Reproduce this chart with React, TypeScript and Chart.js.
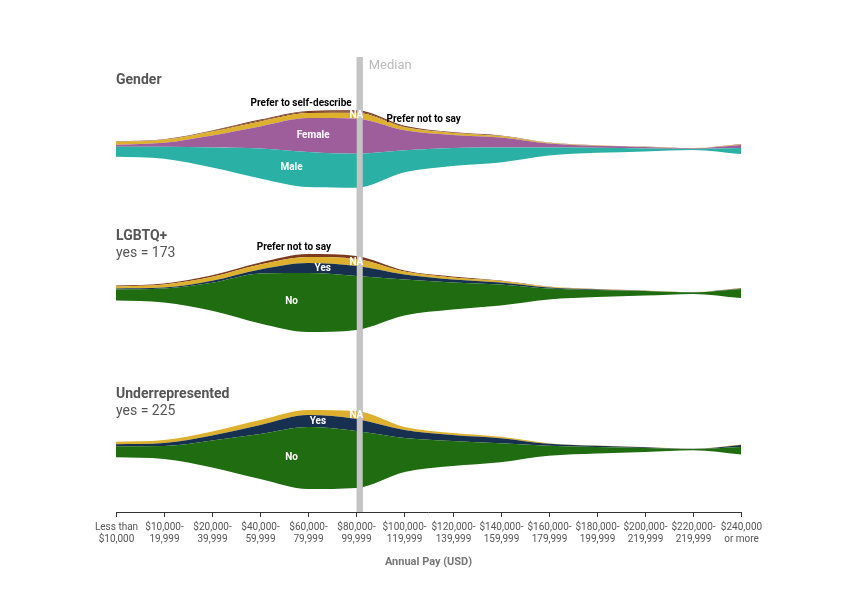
import React, { useEffect, useRef } from "react";
import { Chart, registerables } from "chart.js";
Chart.register(...registerables);

const categories = [
  ["Less than", "$10,000"], ["$10,000-", "19,999"], ["$20,000-", "39,999"], ["$40,000-", "59,999"],
  ["$60,000-", "79,999"], ["$80,000-", "99,999"], ["$100,000-", "119,999"], ["$120,000-", "139,999"],
  ["$140,000-", "159,999"], ["$160,000-", "179,999"], ["$180,000-", "199,999"], ["$200,000-", "219,999"],
  ["$220,000-", "219,999"], ["$240,000", "or more"],
];
const medianIndex = 5.07;

// Gender (bottom to top)
const genderMale = [10, 12, 20, 30, 35, 34, 22, 18, 15, 8, 5, 3, 1, 6];
const genderFemale = [2, 4, 12, 22, 34, 35, 20, 13, 10, 4, 2, 1.5, 0.5, 3];
const genderNA = [3, 3, 4, 5, 5, 6, 3, 2, 1.5, 0.8, 0.5, 0.3, 0.2, 0.5];
const genderSelf = [0.3, 0.3, 0.5, 0.8, 1, 1, 0.5, 0.3, 0.2, 0.1, 0.1, 0, 0, 0.2];
const genderPNS = [0.3, 0.3, 0.5, 1, 1.2, 1.5, 1, 0.5, 0.3, 0.2, 0.1, 0.1, 0.1, 0.3];

// LGBTQ+
const lgbtNo = [11, 14, 28, 50, 59, 54, 36, 27, 21, 11, 7, 4.5, 1.5, 9];
const lgbtYes = [1, 1, 2, 4, 10, 10, 5, 3, 2, 1, 0.5, 0.3, 0.1, 0.5];
const lgbtNA = [2, 3, 4, 5, 6, 7, 3, 2, 1.5, 0.7, 0.3, 0.2, 0.1, 0.3];
const lgbtPNS = [1, 1, 1.5, 2, 3, 3, 1, 1, 0.5, 0.3, 0.2, 0.1, 0.1, 0.2];

// Underrepresented
const urNo = [11, 13, 27, 45, 62, 57, 34, 25, 19, 10, 6.5, 4, 1.2, 7.5];
const urYes = [2, 3, 5, 9, 12, 12, 8, 6, 5, 2, 1.2, 0.8, 0.2, 2];
const urNA = [2.5, 3, 4, 5, 5, 8, 3, 2, 1.5, 0.7, 0.4, 0.3, 0.1, 0.4];

const C = {
  male: "#2bb0a5", female: "#9e5e9b", na: "#ddb12e", brown: "#7b3a1e",
  navy: "#17304f", green: "#206c10",
};

type Group = { center: number; layers: { values: number[]; color: string }[] };
const groups: Group[] = [
  { center: 363, layers: [
    { values: genderMale, color: C.male }, { values: genderFemale, color: C.female },
    { values: genderNA, color: C.na }, { values: genderSelf, color: C.brown }, { values: genderPNS, color: C.brown }] },
  { center: 219, layers: [
    { values: lgbtNo, color: C.green }, { values: lgbtYes, color: C.navy },
    { values: lgbtNA, color: C.na }, { values: lgbtPNS, color: C.brown }] },
  { center: 62.5, layers: [
    { values: urNo, color: C.green }, { values: urYes, color: C.navy }, { values: urNA, color: C.na }] },
];

function boundaries(g: Group) {
  const n = categories.length;
  const totals = Array.from({ length: n }, (_, i) => g.layers.reduce((s, l) => s + l.values[i], 0));
  const res: number[][] = [];
  let cur = totals.map((t) => g.center - t / 2);
  res.push(cur.slice());
  for (const l of g.layers) {
    cur = cur.map((v, i) => v + l.values[i]);
    res.push(cur.slice());
  }
  return res;
}

const bounds = groups.map(boundaries);

function layerMid(gi: number, li: number, idx: number) {
  const b = bounds[gi];
  const i0 = Math.floor(idx), i1 = Math.min(i0 + 1, categories.length - 1), f = idx - i0;
  const lo = b[li][i0] * (1 - f) + b[li][i1] * f;
  const hi = b[li + 1][i0] * (1 - f) + b[li + 1][i1] * f;
  return (lo + hi) / 2;
}
function layerTop(gi: number, idx: number) {
  const b = bounds[gi][bounds[gi].length - 1];
  const i0 = Math.floor(idx), i1 = Math.min(i0 + 1, categories.length - 1), f = idx - i0;
  return b[i0] * (1 - f) + b[i1] * f;
}

const overlay = {
  id: "overlay",
  beforeDatasetsDraw(chart: any) {
    const { ctx, scales: { x, y } } = chart;
    const mx = x.getPixelForValue(medianIndex);
    ctx.save();
    ctx.fillStyle = "#c4c4c4";
    ctx.fillRect(mx - 3, y.getPixelForValue(455), 6, y.getPixelForValue(0) - y.getPixelForValue(455));
    ctx.restore();
  },
  afterDatasetsDraw(chart: any) {
    const { ctx, scales: { x, y } } = chart;
    ctx.save();
    const mx = x.getPixelForValue(medianIndex);
    ctx.fillStyle = "#c4c4c4";
    ctx.fillRect(mx - 3, y.getPixelForValue(455), 6, y.getPixelForValue(0) - y.getPixelForValue(455));
    ctx.font = "13px Roboto";
    ctx.fillStyle = "#bbbbbb";
    ctx.textAlign = "left";
    ctx.textBaseline = "middle";
    ctx.fillText("Median", mx + 9, y.getPixelForValue(446));

    // axis
    const y0 = y.getPixelForValue(0);
    ctx.strokeStyle = "#333";
    ctx.lineWidth = 1;
    ctx.beginPath();
    ctx.moveTo(x.getPixelForValue(0), y0 + 0.5);
    ctx.lineTo(x.getPixelForValue(13), y0 + 0.5);
    ctx.stroke();
    ctx.font = "10px Roboto";
    ctx.fillStyle = "#555";
    ctx.textAlign = "center";
    categories.forEach((c, i) => {
      const px = Math.round(x.getPixelForValue(i)) + 0.5;
      ctx.beginPath();
      ctx.moveTo(px, y0);
      ctx.lineTo(px, y0 + 5);
      ctx.stroke();
      ctx.fillText(c[0], px, y0 + 15);
      ctx.fillText(c[1], px, y0 + 27);
    });
    ctx.font = "bold 11px Roboto";
    ctx.fillStyle = "#777";
    ctx.fillText("Annual Pay (USD)", x.getPixelForValue(6.5), y0 + 50);

    // group titles
    ctx.textAlign = "left";
    const lx = x.getPixelForValue(0);
    const title = (t: string, v: number, sub?: string) => {
      ctx.font = "bold 14px Roboto";
      ctx.fillStyle = "#555";
      ctx.fillText(t, lx, y.getPixelForValue(v));
      if (sub) {
        ctx.font = "14px Roboto";
        ctx.fillText(sub, lx, y.getPixelForValue(v) + 17);
      }
    };
    title("Gender", 432);
    title("LGBTQ+", 276, "yes = 173");
    title("Underrepresented", 118, "yes = 225");

    // layer labels
    const white = (t: string, gi: number, li: number, idx: number) => {
      ctx.font = "bold 10px Roboto";
      ctx.fillStyle = "#fff";
      ctx.textAlign = "center";
      ctx.fillText(t, x.getPixelForValue(idx), y.getPixelForValue(layerMid(gi, li, idx)));
    };
    white("Male", 0, 0, 3.65);
    white("Female", 0, 1, 4.1);
    white("NA", 0, 2, 5.0);
    white("No", 1, 0, 3.65);
    white("Yes", 1, 1, 4.3);
    white("NA", 1, 2, 5.0);
    white("No", 2, 0, 3.65);
    white("Yes", 2, 1, 4.2);
    white("NA", 2, 2, 5.0);
    const black = (t: string, gi: number, idx: number, dy: number) => {
      ctx.font = "bold 10px Roboto";
      ctx.fillStyle = "#000";
      ctx.textAlign = "center";
      ctx.fillText(t, x.getPixelForValue(idx), y.getPixelForValue(layerTop(gi, idx)) - dy);
    };
    black("Prefer to self-describe", 0, 3.85, 9);
    black("Prefer not to say", 0, 6.4, 9);
    black("Prefer not to say", 1, 3.7, 9);
    ctx.restore();
  },
};

export default function App() {
  const ref = useRef<HTMLCanvasElement>(null);
  useEffect(() => {
    document.body.style.margin = "0";
    const datasets: any[] = [];
    groups.forEach((g, gi) => {
      const b = bounds[gi];
      b.forEach((line, k) => {
        datasets.push({
          data: line.map((v, i) => ({ x: i, y: v })),
          borderWidth: 0,
          pointRadius: 0,
          cubicInterpolationMode: "monotone",
          fill: k === 0 ? false : "-1",
          backgroundColor: k === 0 ? "transparent" : g.layers[k - 1].color,
          borderColor: "transparent",
        });
      });
    });
    const chart = new Chart(ref.current!, {
      type: "line",
      data: { datasets },
      options: {
        animation: false,
        responsive: false,
        layout: { padding: { left: 116, right: 112, top: 42, bottom: 88 } },
        plugins: { legend: { display: false }, tooltip: { enabled: false } },
        scales: {
          x: { type: "linear", min: 0, max: 13, display: false },
          y: { type: "linear", min: 0, max: 470, display: false },
        },
      },
      plugins: [overlay],
    });
    return () => chart.destroy();
  }, []);
  return <canvas ref={ref} width={853} height={600} style={{ display: "block" }} />;
}
